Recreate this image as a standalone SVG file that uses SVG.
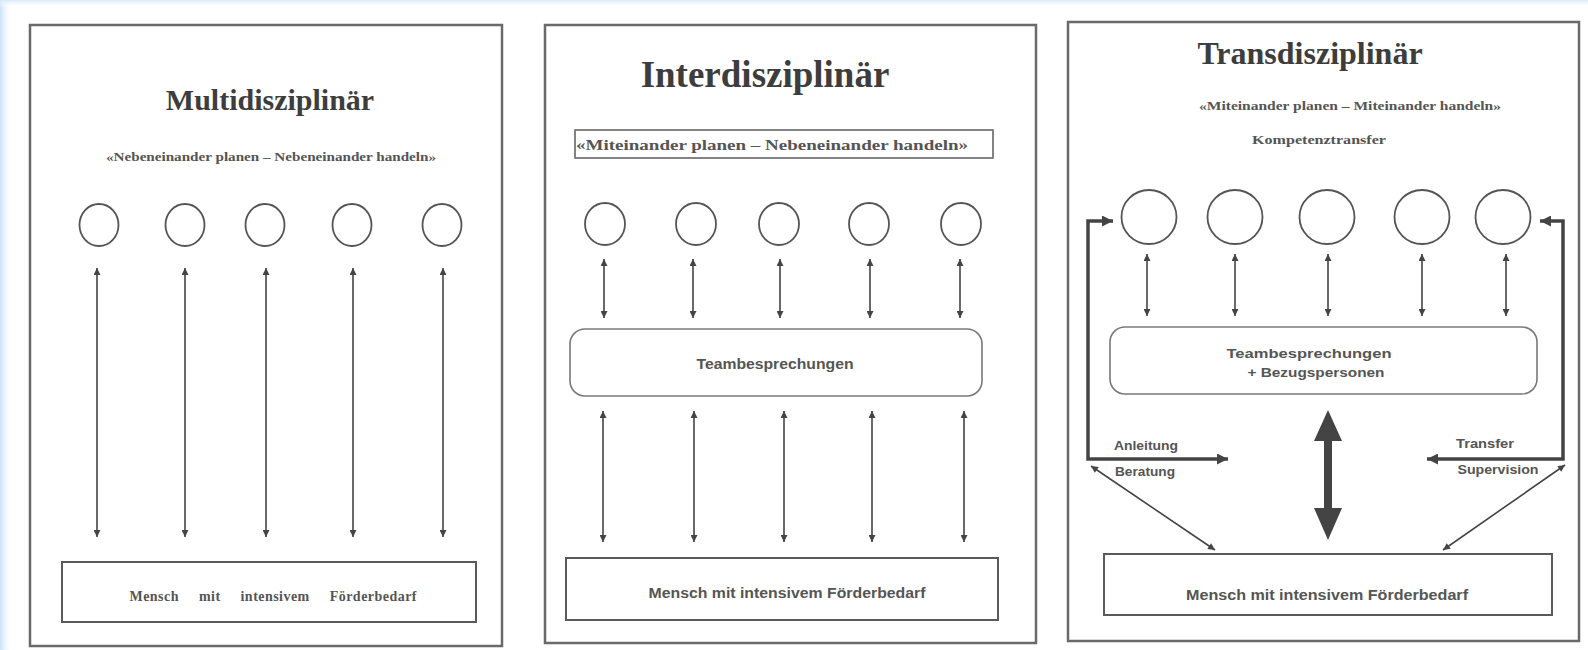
<svg xmlns="http://www.w3.org/2000/svg" width="1588" height="650" viewBox="0 0 1588 650">
<defs>
<linearGradient id="bgL" x1="0" y1="0" x2="1" y2="0"><stop offset="0" stop-color="#c9e2fa"/><stop offset="1" stop-color="#ffffff" stop-opacity="0"/></linearGradient>
<linearGradient id="bgT" x1="0" y1="0" x2="0" y2="1"><stop offset="0" stop-color="#d9eafb"/><stop offset="1" stop-color="#ffffff" stop-opacity="0"/></linearGradient>
<marker id="ah" viewBox="0 0 10 10" refX="10" refY="5" markerWidth="9" markerHeight="7" markerUnits="userSpaceOnUse" orient="auto-start-reverse"><path d="M0,0 L10,5 L0,10 z" fill="#444"/></marker>
<marker id="ahb" viewBox="0 0 10 10" refX="10" refY="5" markerWidth="14" markerHeight="11" markerUnits="userSpaceOnUse" orient="auto-start-reverse"><path d="M0,0 L10,5 L0,10 z" fill="#444"/></marker>
</defs>
<style>
.panel{fill:#fff;stroke:#6a6a6a;stroke-width:2.5}
.box{fill:#fff;stroke:#5a5a5a;stroke-width:2}
.rbox{fill:#fff;stroke:#7a7a7a;stroke-width:1.6}
.circ{fill:#fff;stroke:#555;stroke-width:1.8}
.title{font-family:"Liberation Serif",serif;font-weight:bold;fill:#3d3d3d;text-anchor:middle}
.sub{font-family:"Liberation Serif",serif;font-weight:bold;fill:#555;text-anchor:middle}
.sans{font-family:"Liberation Sans",Arial,sans-serif;font-weight:bold;fill:#555;text-anchor:middle}
.thin{stroke:#444;stroke-width:1.6;fill:none;marker-start:url(#ah);marker-end:url(#ah)}
.thick{stroke:#444;stroke-width:3.5;fill:none;marker-start:url(#ahb);marker-end:url(#ahb)}
</style>
<rect x="0" y="0" width="1588" height="650" fill="#ffffff"/>
<rect x="0" y="0" width="12" height="650" fill="url(#bgL)"/>
<rect x="0" y="0" width="1588" height="8" fill="url(#bgT)"/>

<g id="panel-multi">
<rect class="panel" x="30" y="25" width="472" height="621"/>
<text class="title" x="270" y="110" font-size="30">Multidisziplinär</text>
<text class="sub" x="271" y="161" font-size="12" textLength="330" lengthAdjust="spacingAndGlyphs">«Nebeneinander planen – Nebeneinander handeln»</text>
<ellipse class="circ" cx="99" cy="225" rx="19.5" ry="21"/>
<ellipse class="circ" cx="185" cy="225" rx="19.5" ry="21"/>
<ellipse class="circ" cx="265" cy="225" rx="19.5" ry="21"/>
<ellipse class="circ" cx="352" cy="225" rx="19.5" ry="21"/>
<ellipse class="circ" cx="442" cy="225" rx="19.5" ry="21"/>
<g id="m-person">
<rect class="box" x="62" y="562" width="414" height="60"/>
<text x="273" y="601" font-family="Liberation Serif,serif" font-weight="bold" font-size="14" fill="#555" text-anchor="middle" word-spacing="16" textLength="287" lengthAdjust="spacing">Mensch mit intensivem Förderbedarf</text>
</g>
</g>

<g id="panel-inter">
<rect class="panel" x="545" y="25" width="491" height="618"/>
<text class="title" x="765" y="87" font-size="37">Interdisziplinär</text>
<rect x="575" y="130" width="418" height="28" fill="#fff" stroke="#666" stroke-width="1.6"/>
<text class="sub" x="772" y="150" font-size="15" textLength="392" lengthAdjust="spacingAndGlyphs">«Miteinander planen – Nebeneinander handeln»</text>
<ellipse class="circ" cx="605" cy="224" rx="20" ry="21"/>
<ellipse class="circ" cx="696" cy="224" rx="20" ry="21"/>
<ellipse class="circ" cx="779" cy="224" rx="20" ry="21"/>
<ellipse class="circ" cx="869" cy="224" rx="20" ry="21"/>
<ellipse class="circ" cx="961" cy="224" rx="20" ry="21"/>
<g id="i-team">
<rect class="rbox" x="570" y="329" width="412" height="67" rx="15"/>
<text class="sans" x="775" y="369" font-size="14" textLength="157" lengthAdjust="spacingAndGlyphs">Teambesprechungen</text>
</g>
<g id="i-person">
<rect class="box" x="566" y="558" width="432" height="62"/>
<text class="sans" x="787" y="598" font-size="14" textLength="277" lengthAdjust="spacingAndGlyphs">Mensch mit intensivem Förderbedarf</text>
</g>
</g>

<g id="panel-trans">
<rect class="panel" x="1068" y="22" width="511" height="619"/>
<text class="title" x="1310" y="64" font-size="32">Transdisziplinär</text>
<text class="sub" x="1350" y="110" font-size="12" textLength="302" lengthAdjust="spacingAndGlyphs">«Miteinander planen – Miteinander handeln»</text>
<text class="sub" x="1319" y="144" font-size="12" textLength="134" lengthAdjust="spacingAndGlyphs">Kompetenztransfer</text>
<ellipse class="circ" cx="1149" cy="217" rx="27.5" ry="27"/>
<ellipse class="circ" cx="1235" cy="217" rx="27.5" ry="27"/>
<ellipse class="circ" cx="1327" cy="217" rx="27.5" ry="27"/>
<ellipse class="circ" cx="1422" cy="217" rx="27.5" ry="27"/>
<ellipse class="circ" cx="1503" cy="217" rx="27.5" ry="27"/>
<g id="t-team">
<rect class="rbox" x="1110" y="327" width="427" height="67" rx="15"/>
<text class="sans" x="1309" y="358" font-size="13" textLength="165" lengthAdjust="spacingAndGlyphs">Teambesprechungen</text>
<text class="sans" x="1316" y="377" font-size="13" textLength="137" lengthAdjust="spacingAndGlyphs">+ Bezugspersonen</text>
</g>
<g id="t-person">
<rect class="box" x="1104" y="554" width="448" height="61"/>
<text class="sans" x="1327" y="600" font-size="14" textLength="282" lengthAdjust="spacingAndGlyphs">Mensch mit intensivem Förderbedarf</text>
</g>
<g id="t-labels">
<text class="sans" x="1146" y="450" font-size="12" textLength="64" lengthAdjust="spacingAndGlyphs">Anleitung</text>
<text class="sans" x="1145" y="476" font-size="12" textLength="60" lengthAdjust="spacingAndGlyphs">Beratung</text>
<text class="sans" x="1485" y="448" font-size="12" textLength="58" lengthAdjust="spacingAndGlyphs">Transfer</text>
<text class="sans" x="1498" y="474" font-size="12" textLength="81" lengthAdjust="spacingAndGlyphs">Supervision</text>
</g>
</g>

<g id="connectors">
<line class="thin" x1="97" y1="268" x2="97" y2="537"/>
<line class="thin" x1="185" y1="268" x2="185" y2="537"/>
<line class="thin" x1="266" y1="268" x2="266" y2="537"/>
<line class="thin" x1="353" y1="268" x2="353" y2="537"/>
<line class="thin" x1="443" y1="268" x2="443" y2="537"/>

<line class="thin" x1="604" y1="259" x2="604" y2="318"/>
<line class="thin" x1="693" y1="259" x2="693" y2="318"/>
<line class="thin" x1="780" y1="259" x2="780" y2="318"/>
<line class="thin" x1="870" y1="259" x2="870" y2="318"/>
<line class="thin" x1="960" y1="259" x2="960" y2="318"/>

<line class="thin" x1="603" y1="411" x2="603" y2="542"/>
<line class="thin" x1="694" y1="411" x2="694" y2="542"/>
<line class="thin" x1="784" y1="411" x2="784" y2="542"/>
<line class="thin" x1="872" y1="411" x2="872" y2="542"/>
<line class="thin" x1="964" y1="411" x2="964" y2="542"/>

<line class="thin" x1="1147" y1="254" x2="1147" y2="316"/>
<line class="thin" x1="1235" y1="254" x2="1235" y2="316"/>
<line class="thin" x1="1328" y1="254" x2="1328" y2="316"/>
<line class="thin" x1="1422" y1="254" x2="1422" y2="316"/>
<line class="thin" x1="1506" y1="254" x2="1506" y2="316"/>

<path class="thick" d="M1113,221 L1088,221 L1088,459 L1228,459"/>
<path class="thick" d="M1540,221 L1563,221 L1563,459 L1427,459"/>
<line class="thin" x1="1091" y1="466" x2="1215" y2="550"/>
<line class="thin" x1="1565" y1="465" x2="1443" y2="550"/>
<path d="M1328,410 L1342,441 L1332,441 L1332,508 L1342,508 L1328,540 L1314,508 L1324,508 L1324,441 L1314,441 z" fill="#444"/>
</g>
</svg>
